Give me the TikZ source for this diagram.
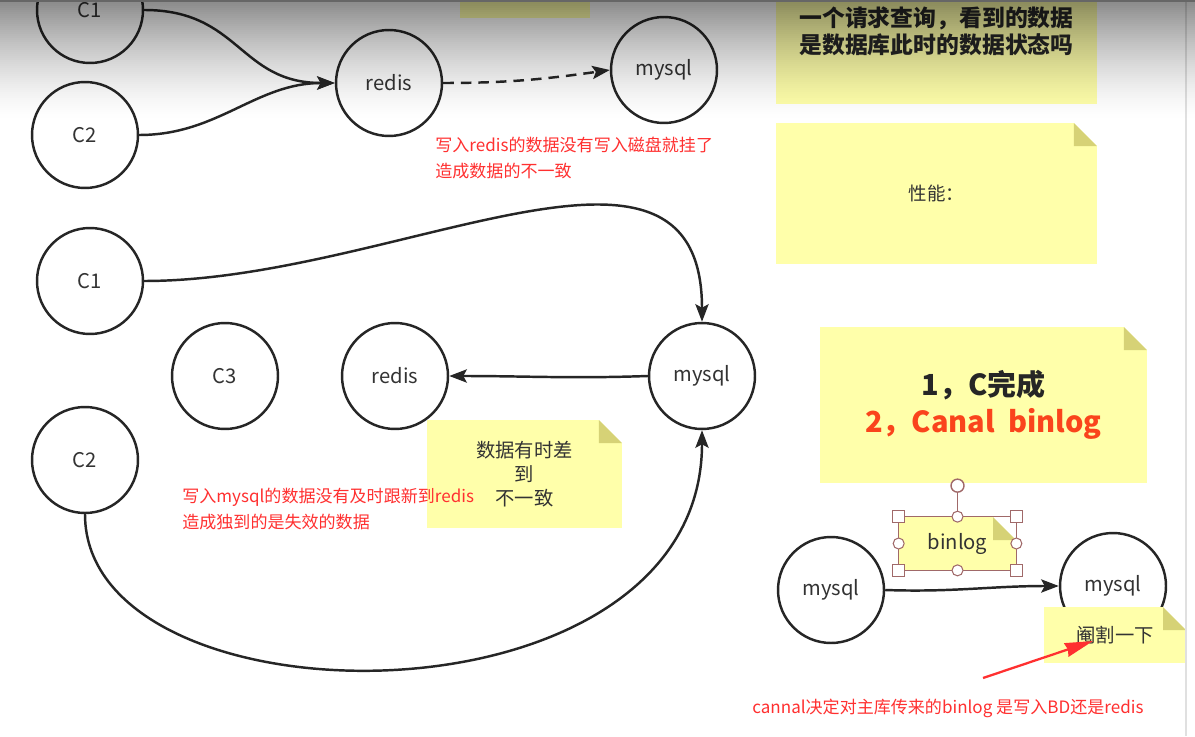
\documentclass[tikz,border=0pt]{standalone}
\usepackage{fontspec}
\setmainfont{Noto Sans CJK SC}
\usepackage{xcolor}
\usetikzlibrary{arrows.meta}
\definecolor{notebg}{RGB}{255,255,170}
\definecolor{notefold}{RGB}{214,210,118}
\definecolor{warnred}{RGB}{255,48,48}
\definecolor{titlered}{RGB}{250,68,28}
\definecolor{handle}{RGB}{160,105,105}
\definecolor{ink}{RGB}{51,51,51}

\begin{document}
\begin{tikzpicture}[x=0.02cm, y=-0.02cm,
    store/.style={circle, draw=black!85, line width=1.4pt, minimum size=2.12cm, inner sep=0pt, text=ink, font=\fontsize{11.5}{14}\selectfont},
    note/.style={rectangle, fill=notebg, inner sep=0pt, align=center, text=ink,
      path picture={
        \fill[white] (path picture bounding box.north east) -- ++(-23,0) -- ++(23,23) -- cycle;
        \fill[notefold] (path picture bounding box.north east) ++(-23,0) -- ++(23,23) -- ++(-23,0) -- cycle;}},
    flow/.style={line width=1.4pt, draw=black!85, -{Stealth[length=10pt, width=7.5pt, inset=2pt]}},
    warn/.style={anchor=west, align=left, inner sep=0pt, text=warnred, font=\fontsize{9.7}{14.7}\selectfont}]
  \useasboundingbox (0,0) rectangle (1195,736);
  \clip (0,0) rectangle (1195,736);
  \fill[white] (0,0) rectangle (1195,736);

  \node[store] (c1a) at (90,10) {C1};
  \node[store] (c2a) at (85,135) {C2};
  \node[store] (redisa) at (389,83) {redis};
  \node[store] (mysqla) at (664,70) {mysql};
  \draw[flow] (c1a.east) to[out=0, in=180, looseness=1.2] (redisa.west);
  \draw[flow] (c2a.east) to[out=0, in=180] (redisa.west);
  \draw[flow, dash pattern=on 6pt off 4pt] (redisa.east) to[out=0, in=188] (mysqla.west);
  \node[warn] (losttext) at (435,158) {写入redis的数据没有写入磁盘就挂了\\造成数据的不一致};

  \node[store] (c1b) at (90,281) {C1};
  \node[store] (c3) at (225,376) {C3};
  \node[store] (redisb) at (395,376) {redis};
  \node[store] (mysqlb) at (702,376) {mysql};
  \node[store] (c2b) at (85,460) {C2};
  \draw[flow] (c1b.east) .. controls +(250,0) and +(0,-230) .. (mysqlb.north);
  \draw[flow] (mysqlb.west) to[out=182, in=0] (redisb.east);
  \draw[flow] (c2b.south) .. controls +(0,217) and +(0,306) .. (mysqlb.south);

  \node[store] (mysqlc) at (831,590) {mysql};
  \node[store] (mysqld) at (1113,586) {mysql};
  \draw[flow] (mysqlc.east) to[out=-2, in=180] (mysqld.west);

  \node[note, minimum width=2.6cm, minimum height=1.32cm] (memo) at (525,-15) {};
  \node[note, minimum width=6.42cm, minimum height=2.9cm, font=\bfseries\fontsize{13}{15.3}\selectfont, text=black!85] (question) at (936.5,31.5) {一个请求查询，看到的数据\\是数据库此时的数据状态吗};
  \node[note, minimum width=6.42cm, minimum height=2.82cm, font=\fontsize{10.5}{12}\selectfont] (perf) at (936.5,193.5) {性能：};
  \node[note, minimum width=3.9cm, minimum height=2.16cm, font=\fontsize{11}{13.6}\selectfont] (lag) at (524.5,474) {数据有时差\\到\\不一致};
  \node[note, minimum width=6.54cm, minimum height=3.12cm, font=\bfseries\fontsize{16.5}{21}\selectfont, text=black!85] (steps) at (983.5,405) {1，C完成\\\textcolor{titlered}{2，Canal~~binlog}};
  \node[note, minimum width=2.34cm, minimum height=1.06cm, font=\fontsize{11.5}{14}\selectfont] (binlog) at (957.5,543.5) {binlog};
  \node[note, minimum width=2.84cm, minimum height=1.12cm, font=\fontsize{11}{13}\selectfont] (cut) at (1115,635) {阉割一下};

  \node[warn] (staletext) at (182,509) {写入mysql的数据没有及时跟新到redis\\造成独到的是失效的数据};

  \draw[handle, line width=0.6pt] (binlog.north west) rectangle (binlog.south east);
  \draw[handle, line width=0.8pt] (binlog.north) -- ++(0,-25);
  \draw[handle, line width=0.8pt, fill=white] (binlog.north) ++(0,-31) circle (6.5);
  \foreach \a in {north west, north east, south west, south east}
    \draw[handle, line width=0.6pt, fill=white] (binlog.\a) ++(-6,-6) rectangle ++(12,12);
  \foreach \a in {north, south, east, west}
    \draw[handle, line width=0.6pt, fill=white] (binlog.\a) circle (5.5);

  \coordinate (hint) at (983,678);
  \coordinate (hinttip) at (1093,641);
  \draw[warnred, line width=1.3pt, -{Stealth[length=16pt, width=8pt, inset=1pt]}] (hint) -- (hinttip);
  \node[warn] (canaltext) at (752,708) {cannal决定对主库传来的binlog 是写入BD还是redis};

  \fill[black!12] (1185,0) rectangle (1187,736);
  \foreach \i in {0,...,59}
    \fill[black, fill opacity={0.46*(1-\i/60)^1.5}] (0,2*\i) rectangle (1195,2*\i+2);
  \fill[black!60] (0,0) rectangle (1195,2);
\end{tikzpicture}
\end{document}
